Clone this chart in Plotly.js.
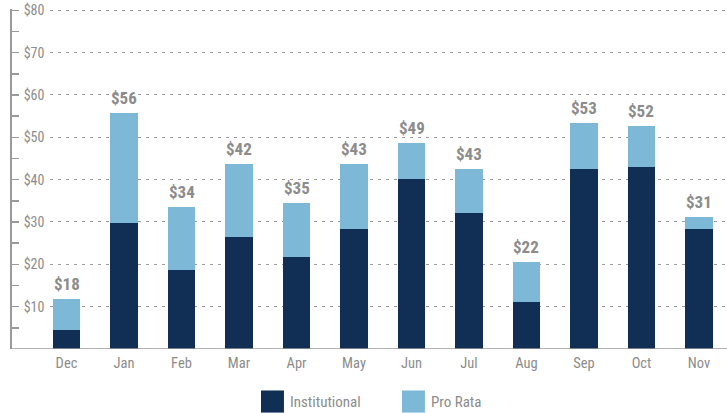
<!DOCTYPE html>
<html><head><meta charset="utf-8">
<script src="https://cdn.plot.ly/plotly-3.0.1.min.js"></script>
<style>html,body{margin:0;padding:0;background:#fff}#chart{width:727px;height:413px}</style>
</head><body><div id="chart"></div>
<script>
var months = ["Dec","Jan","Feb","Mar","Apr","May","Jun","Jul","Aug","Sep","Oct","Nov"];
var institutional = [4.5, 29.8, 18.7, 26.4, 21.7, 28.3, 40.1, 32.1, 11.1, 42.5, 42.9, 28.3];
var proRata = [7.3, 25.9, 14.9, 17.2, 12.7, 15.3, 8.5, 10.4, 9.4, 10.8, 9.7, 2.8];
var totalLabels = ["$18","$56","$34","$42","$35","$43","$49","$43","$22","$53","$52","$31"];
var yTickVals = [10,20,30,40,50,60,70,80];
var yTickText = ["$10","$20","$30","$40","$50","$60","$70","$80"];
var seriesNames = ["Institutional","Pro Rata"];
var colors = ["#112f55","#7db8d7"];

var FONT = "'Roboto Condensed','Liberation Sans Narrow','DejaVu Sans Condensed','Arial Narrow',sans-serif";
var GRAY = "#8c8c8c";

var traces = [
  {type:"bar", x:months, y:institutional, name:seriesNames[0], marker:{color:colors[0]}, showlegend:false, hoverinfo:"skip"},
  {type:"bar", x:months, y:proRata, name:seriesNames[1], marker:{color:colors[1]}, showlegend:false, hoverinfo:"skip"}
];

var annotations = months.map(function(m,i){
  return {x:m, y:institutional[i]+proRata[i], xref:"x", yref:"y", text:totalLabels[i],
    showarrow:false, yanchor:"bottom", yshift:3,
    font:{family:FONT, size:17, color:GRAY, weight:"bold"}};
});
var legendX = [0.3501, 0.5467];
seriesNames.forEach(function(n,i){
  annotations.push({x:legendX[i]+0.037, y:-0.155, xref:"paper", yref:"paper", text:n, showarrow:false,
    xanchor:"left", yanchor:"middle", font:{family:FONT, size:15, color:GRAY}});
});

var shapes = [
  {type:"line", xref:"paper", yref:"y", x0:0, x1:1, y0:0, y1:0, line:{color:"#9a9a9a", width:1.5}}
];
seriesNames.forEach(function(n,i){
  shapes.push({type:"rect", xref:"paper", yref:"paper", x0:legendX[i], x1:legendX[i]+0.032,
    y0:-0.122, y1:-0.187, fillcolor:colors[i], line:{width:0}});
});

var layout = {
  width:727, height:413,
  margin:{l:10, r:0, t:9, b:64},
  paper_bgcolor:"#fff", plot_bgcolor:"#fff",
  barmode:"stack", bargap:0.53,
  showlegend:false,
  font:{family:FONT, color:GRAY},
  xaxis:{domain:[0.0558,1], range:[-0.287,11.487], showline:false, ticks:"", showgrid:false,
    tickfont:{family:FONT, size:14.5, color:GRAY}, ticklabelstandoff:3, fixedrange:true},
  yaxis:{anchor:"free", position:0, range:[0,80.3], tickmode:"array", tickvals:yTickVals, ticktext:yTickText,
    showline:true, linecolor:"#9a9a9a", linewidth:1.5,
    ticks:"inside", ticklen:7, tickcolor:"#9a9a9a", tickwidth:1.5,
    minor:{tickmode:"linear", tick0:0, dtick:5, ticks:"inside", ticklen:7, tickcolor:"#9a9a9a", tickwidth:1.5, showgrid:false},
    ticklabelposition:"inside", ticklabelstandoff:5, ticklabeloverflow:"allow",
    showgrid:true, gridcolor:"#9a9a9a", gridwidth:1, griddash:"3px,5px", zeroline:false,
    tickfont:{family:FONT, size:14, color:GRAY}, fixedrange:true},
  annotations:annotations,
  shapes:shapes
};
Plotly.newPlot("chart", traces, layout, {displayModeBar:false, staticPlot:true});
</script></body></html>
